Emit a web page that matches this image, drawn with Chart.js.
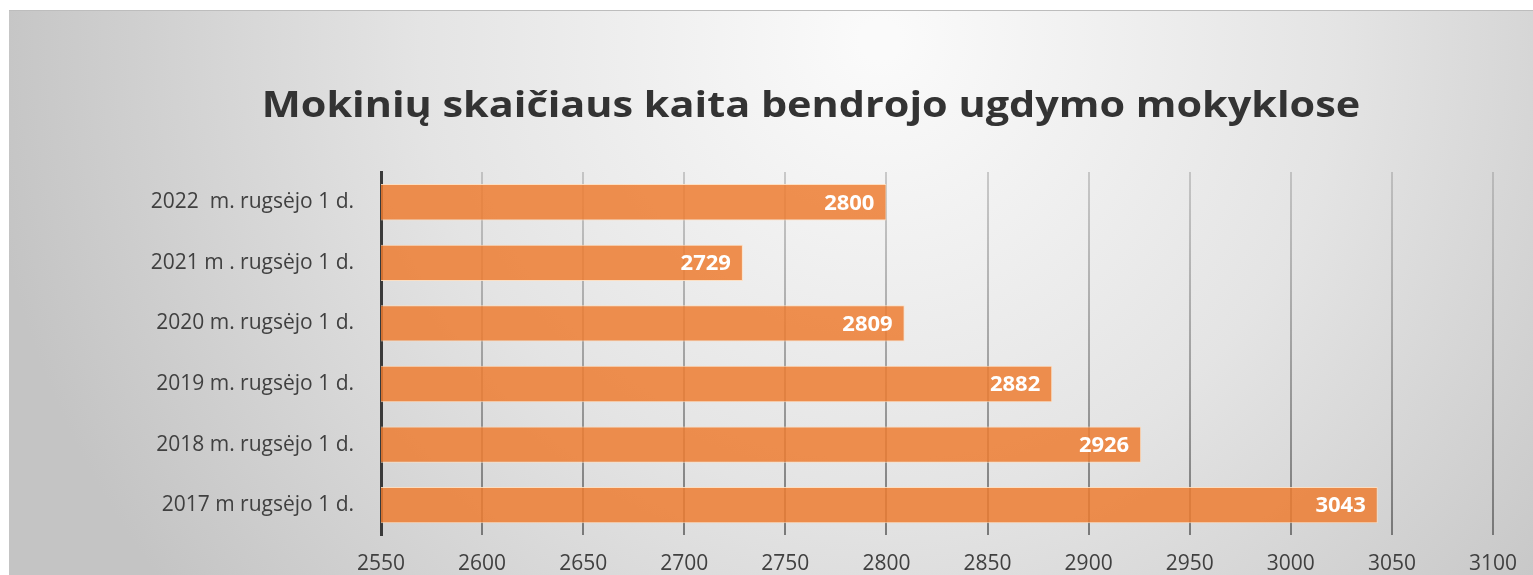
<!DOCTYPE html>
<html>
<head>
<meta charset="utf-8">
<script src="https://cdn.jsdelivr.net/npm/chart.js@4"></script>
<style>
    html, body { margin: 0; padding: 0; background: #fff; }
    #wrap { width: 1533px; height: 575px; }
</style>
</head>
<body>
<div id="wrap"><canvas id="chart" width="1533" height="575"></canvas></div>
<script>
// Data
const chartTitle = 'Mokinių skaičiaus kaita bendrojo ugdymo mokyklose';
const categories = [
    '2022  m. rugsėjo 1 d.',
    '2021 m . rugsėjo 1 d.',
    '2020 m. rugsėjo 1 d.',
    '2019 m. rugsėjo 1 d.',
    '2018 m. rugsėjo 1 d.',
    '2017 m rugsėjo 1 d.'
];
const studentCounts = [2800, 2729, 2809, 2882, 2926, 3043];
const axisMin = 2550;
const axisMax = 3100;
const axisStep = 50;

const canvas = document.getElementById('chart');
const ctx = canvas.getContext('2d');

// Gridlines fade out towards the top
const gridGradient = ctx.createLinearGradient(0, 172, 0, 536);
gridGradient.addColorStop(0, 'rgba(150,150,150,0.45)');
gridGradient.addColorStop(1, 'rgba(110,110,110,0.9)');

// Panel background + title (the original text is a bit stretched sideways)
const panelPlugin = {
    id: 'panel',
    beforeDraw(chart) {
        const c = chart.ctx;
        const w = chart.width, h = chart.height;
        c.save();
        c.fillStyle = '#ffffff';
        c.fillRect(0, 0, w, h);
        const g = c.createRadialGradient(880, 40, 20, 880, 40, 900);
        g.addColorStop(0, '#fafafa');
        g.addColorStop(0.5, '#e4e4e4');
        g.addColorStop(1, '#c4c4c4');
        c.fillStyle = g;
        c.fillRect(9, 10, w - 9, h - 10);
        c.strokeStyle = '#bdbdbd';
        c.lineWidth = 1;
        c.beginPath();
        c.moveTo(9, 10.5);
        c.lineTo(w, 10.5);
        c.stroke();

        c.translate(811, 107);
        c.scale(1.15, 1);
        c.fillStyle = '#333333';
        c.font = 'bold 36px "Open Sans"';
        c.textAlign = 'center';
        c.textBaseline = 'middle';
        c.fillText(chartTitle, 0, 0);
        c.restore();
    }
};

// Value labels inside the bar ends
const valueLabelPlugin = {
    id: 'valueLabels',
    afterDatasetsDraw(chart) {
        const c = chart.ctx;
        const meta = chart.getDatasetMeta(0);
        c.save();
        c.fillStyle = '#ffffff';
        c.font = 'bold 22px "Open Sans"';
        c.textAlign = 'right';
        c.textBaseline = 'middle';
        meta.data.forEach((bar, i) => {
            c.fillText(String(studentCounts[i]), bar.x - 12, bar.y + 1);
        });
        c.restore();
    }
};

new Chart(ctx, {
    type: 'bar',
    data: {
        labels: categories,
        datasets: [{
            data: studentCounts,
            backgroundColor: 'rgba(237,125,49,0.85)',
            borderColor: 'rgba(255,222,190,0.9)',
            borderWidth: 1,
            categoryPercentage: 1,
            barPercentage: 0.6
        }]
    },
    options: {
        indexAxis: 'y',
        responsive: false,
        animation: false,
        layout: {
            padding: { top: 172, right: 30, left: 0, bottom: 0 }
        },
        plugins: {
            legend: { display: false },
            title: { display: false },
            tooltip: { enabled: false }
        },
        scales: {
            x: {
                min: axisMin,
                max: axisMax,
                grid: {
                    color: gridGradient,
                    lineWidth: 2,
                    drawTicks: false
                },
                border: { display: false },
                ticks: {
                    stepSize: axisStep,
                    padding: 16,
                    color: '#404040',
                    font: { family: 'Open Sans', size: 21 },
                    callback: value => String(value)
                },
                afterFit(scale) {
                    scale.height = 39;
                }
            },
            y: {
                grid: { display: false, drawTicks: false },
                border: { display: true, color: '#3a3a3a', width: 3 },
                ticks: {
                    padding: 27,
                    color: '#404040',
                    font: { family: 'Open Sans', size: 21 }
                },
                afterFit(scale) {
                    scale.width = 381;
                }
            }
        }
    },
    plugins: [panelPlugin, valueLabelPlugin]
});
</script>
</body>
</html>
